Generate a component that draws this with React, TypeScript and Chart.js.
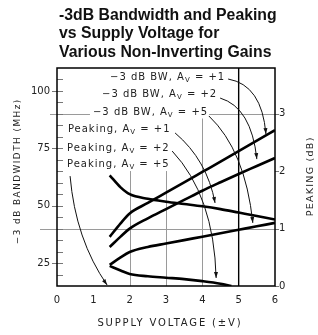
import React, { useEffect, useRef } from "react";
import { Chart, registerables } from "chart.js";

Chart.register(...registerables);

// ---- text ----
const TITLE_LINES = ["-3dB Bandwidth and Peaking", "vs Supply Voltage for", "Various Non-Inverting Gains"];
const X_TITLE = "SUPPLY VOLTAGE (\u00B1V)";
const Y_TITLE = "\u22123 dB BANDWIDTH (MHz)";
const Y1_TITLE = "PEAKING (dB)";

// ---- tick labels ----
const X_TICK_LABELS = [0, 1, 2, 3, 4, 5, 6];
const Y_LABELLED_TICKS = [25, 50, 75, 100];
const Y1_TICK_LABELS = [0, 1, 2, 3];

// ---- series (supply voltage ±V) ----
const SUPPLY = [1.45, 1.75, 2, 2.5, 3, 3.5, 4, 4.5, 5, 5.5, 6];
const BW_AV1 = [36.4, 42.3, 46.6, 51.2, 55.7, 60.2, 64.7, 69.2, 73.8, 78.3, 82.9];
const BW_AV2 = [32.0, 36.5, 40.0, 44.5, 48.5, 52.5, 56.5, 60.2, 63.8, 67.3, 70.8];
const BW_AV5 = [24.2, 27.5, 29.8, 32.0, 33.5, 35.0, 36.5, 38.0, 39.5, 41.0, 42.5];
const PEAK_AV1 = [1.93, 1.72, 1.6, 1.52, 1.47, 1.43, 1.39, 1.34, 1.28, 1.22, 1.16];
const PEAK_AV2_SUPPLY = [1.45, 1.75, 2, 2.5, 3, 3.5, 4, 4.5, 4.8];
const PEAK_AV2 = [0.35, 0.27, 0.21, 0.17, 0.145, 0.12, 0.085, 0.04, 0.0];
// Peaking for A_V = +5 is 0 dB (arrow points to the axis)

// ---- callouts: label anchor and leader arrow (start, control, tip) in (V, MHz) ----
const CALLOUTS = [
  { pre: "\u22123 dB BW, A", sub: "V", post: " = +1", at: [1.46, 106.1], arrow: [[4.71, 105.2], [5.64, 102.6], [5.75, 81.2]] },
  { pre: "\u22123 dB BW, A", sub: "V", post: " = +2", at: [1.24, 98.7], arrow: [[4.49, 96.9], [5.35, 92.8], [5.5, 70.3]] },
  { pre: "\u22123 dB BW, A", sub: "V", post: " = +5", at: [0.99, 90.6], arrow: [[4.18, 89.1], [5.18, 74.1], [5.39, 42.5]] },
  { pre: "Peaking, A", sub: "V", post: " = +1", at: [0.3, 83.4], arrow: [[3.25, 81.7], [4.13, 69.9], [4.35, 51.2]] },
  { pre: "Peaking, A", sub: "V", post: " = +2", at: [0.275, 75.1], arrow: [[3.17, 73.8], [4.32, 54.4], [4.38, 18.5]] },
  { pre: "Peaking, A", sub: "V", post: " = +5", at: [0.275, 68.2], arrow: [[0.36, 62.9], [0.51, 35.3], [1.38, 15.4]] },
];

// vertical grid lines: x value and top (MHz)
const V_GRID = [
  { x: 2, top: 65.1 },
  { x: 3, top: 65.1 },
  { x: 4, top: 90.0 },
];

const FONT = '"DejaVu Sans", sans-serif';

function drawCallout(ctx: CanvasRenderingContext2D, x: number, yc: number, pre: string, sub: string, post: string) {
  ctx.save();
  (ctx as any).letterSpacing = "1px";
  ctx.textBaseline = "middle";
  ctx.textAlign = "left";
  ctx.font = `10px ${FONT}`;
  const w1 = ctx.measureText(pre).width;
  ctx.font = `7px ${FONT}`;
  const w2 = ctx.measureText(sub).width;
  ctx.font = `10px ${FONT}`;
  const w3 = ctx.measureText(post).width;
  ctx.fillStyle = "#fff";
  ctx.fillRect(x - 3, yc - 6, w1 + w2 + w3 + 4, 12);
  ctx.fillStyle = "#222";
  ctx.fillText(pre, x, yc);
  ctx.font = `7px ${FONT}`;
  ctx.fillText(sub, x + w1, yc + 3);
  ctx.font = `10px ${FONT}`;
  ctx.fillText(post, x + w1 + w2, yc);
  ctx.restore();
}

// draw centred text stretched (by letter spacing) to a given length
function fitText(ctx: CanvasRenderingContext2D, text: string, cx: number, cy: number, len: number, angle: number, size: number) {
  ctx.save();
  (ctx as any).letterSpacing = "0px";
  ctx.font = `${size}px ${FONT}`;
  const w = ctx.measureText(text).width;
  const n = [...text].length;
  const sp = (len - w) / n;
  (ctx as any).letterSpacing = `${sp.toFixed(2)}px`;
  ctx.translate(cx, cy);
  ctx.rotate(angle);
  ctx.textAlign = "center";
  ctx.textBaseline = "middle";
  ctx.fillStyle = "#222";
  ctx.fillText(text, sp / 2, 0);
  ctx.restore();
}

function drawArrow(ctx: CanvasRenderingContext2D, p0: number[], c: number[], p1: number[]) {
  ctx.save();
  ctx.strokeStyle = "#111";
  ctx.fillStyle = "#111";
  ctx.lineWidth = 1;
  ctx.beginPath();
  ctx.moveTo(p0[0], p0[1]);
  ctx.quadraticCurveTo(c[0], c[1], p1[0], p1[1]);
  ctx.stroke();
  let dx = p1[0] - c[0];
  let dy = p1[1] - c[1];
  const len = Math.hypot(dx, dy) || 1;
  dx /= len;
  dy /= len;
  const hl = 6;
  const hw = 2;
  const bx = p1[0] - dx * hl;
  const by = p1[1] - dy * hl;
  ctx.beginPath();
  ctx.moveTo(p1[0], p1[1]);
  ctx.lineTo(bx - dy * hw, by + dx * hw);
  ctx.lineTo(bx + dy * hw, by - dx * hw);
  ctx.closePath();
  ctx.fill();
  ctx.restore();
}

const decoPlugin = {
  id: "deco",
  beforeDatasetsDraw(chart: any) {
    const { ctx, chartArea: a, scales } = chart;
    const x = scales.x, y = scales.y, y1 = scales.y1;
    ctx.save();
    ctx.strokeStyle = "#9a9a9a";
    ctx.lineWidth = 1;
    for (const g of V_GRID) {
      const px = Math.round(x.getPixelForValue(g.x)) + 0.5;
      ctx.beginPath();
      ctx.moveTo(px, a.bottom);
      ctx.lineTo(px, y.getPixelForValue(g.top));
      ctx.stroke();
    }
    // horizontal line at 40 MHz (= 1 dB)
    let py = Math.round(y.getPixelForValue(40)) + 0.5;
    ctx.beginPath();
    ctx.moveTo(a.left - 17, py);
    ctx.lineTo(a.right + 4, py);
    ctx.stroke();
    // horizontal line at 3 dB
    py = Math.round(y1.getPixelForValue(3)) + 0.5;
    ctx.beginPath();
    ctx.moveTo(a.left - 7, py);
    ctx.lineTo(a.right + 4, py);
    ctx.stroke();
    // x = 5 black line
    ctx.strokeStyle = "#000";
    ctx.lineWidth = 1.4;
    const p5 = x.getPixelForValue(5);
    ctx.beginPath();
    ctx.moveTo(p5, a.top);
    ctx.lineTo(p5, a.bottom);
    ctx.stroke();
    ctx.restore();
  },
  afterDatasetsDraw(chart: any) {
    const { ctx, chartArea: a, scales } = chart;
    const x = scales.x, y = scales.y, y1 = scales.y1;
    ctx.save();
    // left ticks
    ctx.strokeStyle = "#777";
    ctx.lineWidth = 1;
    for (let v = 20; v <= 105; v += 5) {
      const py = Math.round(y.getPixelForValue(v)) + 0.5;
      const major = Y_LABELLED_TICKS.includes(v);
      ctx.beginPath();
      ctx.moveTo(a.left - (major ? 5 : 0), py);
      ctx.lineTo(a.left + 6, py);
      ctx.stroke();
    }
    for (const v of Y1_TICK_LABELS) {
      const py = Math.round(y1.getPixelForValue(v)) + 0.5;
      ctx.beginPath();
      ctx.moveTo(a.right, py);
      ctx.lineTo(a.right + 4, py);
      ctx.stroke();
    }
    // frame
    ctx.strokeStyle = "#000";
    ctx.lineWidth = 1.5;
    ctx.strokeRect(a.left, a.top, a.right - a.left, a.bottom - a.top);
    // callouts
    for (const c of CALLOUTS) {
      const P = (p: number[]) => [x.getPixelForValue(p[0]), y.getPixelForValue(p[1])];
      const lp = P(c.at);
      drawCallout(ctx, lp[0], lp[1], c.pre, c.sub, c.post);
      drawArrow(ctx, P(c.arrow[0]), P(c.arrow[1]), P(c.arrow[2]));
    }
    // titles
    ctx.fillStyle = "#111";
    ctx.textAlign = "left";
    ctx.textBaseline = "alphabetic";
    ctx.font = `bold 15.8px "Liberation Sans", Arial, sans-serif`;
    TITLE_LINES.forEach((t, i) => ctx.fillText(t, 59, 20 + i * 18.4));
    // axis titles
    fitText(ctx, X_TITLE, 169, 323, 145, 0, 10);
    fitText(ctx, Y_TITLE, 18, 172, 146, -Math.PI / 2, 8.8);
    fitText(ctx, Y1_TITLE, 311, 177, 80, -Math.PI / 2, 9.5);
    ctx.restore();
  },
};

export default function App() {
  const ref = useRef<HTMLCanvasElement>(null);
  useEffect(() => {
    const canvas = ref.current!;
    const line = (xs: number[], ys: number[], axis: string) => ({
      data: xs.map((v, i) => ({ x: v, y: ys[i] })),
      yAxisID: axis,
      borderColor: "#000",
      borderWidth: 2.6,
      pointRadius: 0,
      fill: false,
      tension: 0.4,
      cubicInterpolationMode: "monotone" as const,
    });
    const tickFont = { family: "DejaVu Sans", size: 10 };
    const chart = new Chart(canvas, {
      type: "line",
      data: {
        datasets: [
          line(SUPPLY, BW_AV1, "y"),
          line(SUPPLY, BW_AV2, "y"),
          line(SUPPLY, BW_AV5, "y"),
          line(SUPPLY, PEAK_AV1, "y1"),
          line(PEAK_AV2_SUPPLY, PEAK_AV2, "y1"),
        ],
      },
      options: {
        responsive: false,
        animation: false,
        devicePixelRatio: 1,
        layout: { padding: { top: 68, left: 0, right: 0, bottom: 0 } },
        plugins: { legend: { display: false }, tooltip: { enabled: false }, title: { display: false } },
        scales: {
          x: {
            type: "linear",
            min: 0,
            max: 6,
            grid: { display: false, drawTicks: false },
            border: { display: false },
            afterFit: (s: any) => { s.height = 49; },
            afterBuildTicks: (s: any) => { s.ticks = X_TICK_LABELS.map((v) => ({ value: v })); },
            ticks: { padding: 8, color: "#222", font: tickFont, maxRotation: 0 },
          },
          y: {
            type: "linear",
            position: "left",
            min: 15,
            max: 110,
            grid: { display: false, drawTicks: false },
            border: { display: false },
            afterFit: (s: any) => { s.width = 57; },
            afterBuildTicks: (s: any) => { s.ticks = Y_LABELLED_TICKS.map((v) => ({ value: v })); },
            ticks: { padding: 7, color: "#222", font: tickFont },
          },
          y1: {
            type: "linear",
            position: "right",
            min: 0,
            max: 3.8,
            grid: { display: false, drawTicks: false },
            border: { display: false },
            afterFit: (s: any) => { s.width = 43; },
            afterBuildTicks: (s: any) => { s.ticks = Y1_TICK_LABELS.map((v) => ({ value: v })); },
            ticks: { padding: 4, color: "#222", font: tickFont },
          },
        },
      },
      plugins: [decoPlugin],
    });
    return () => chart.destroy();
  }, []);
  return (
    <div style={{ position: "fixed", left: 0, top: 0, width: 318, height: 335, background: "#fff" }}>
      <canvas ref={ref} width={318} height={335} style={{ display: "block", width: 318, height: 335 }} />
    </div>
  );
}
